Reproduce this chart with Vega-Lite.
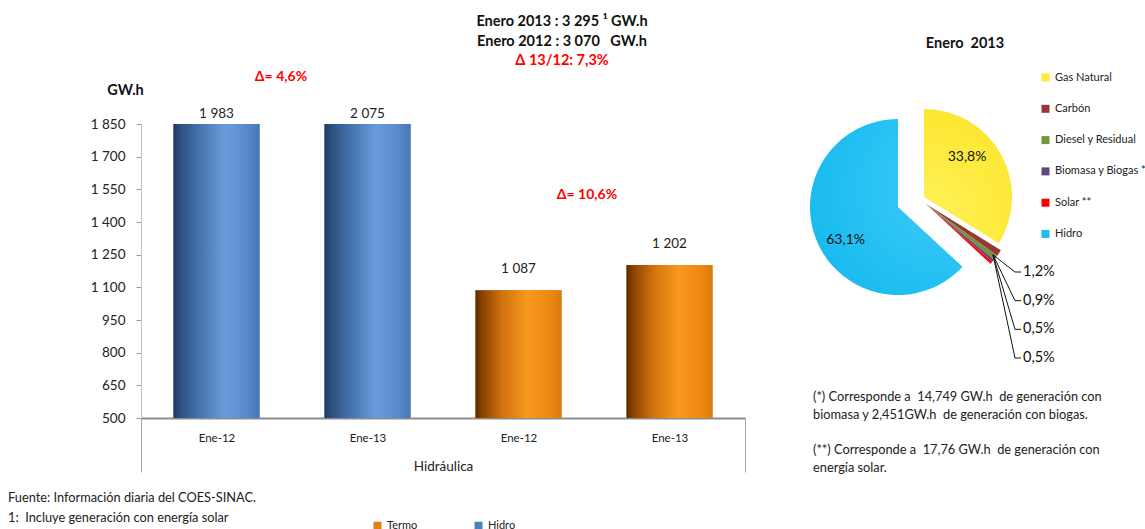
{
  "$schema": "https://vega.github.io/schema/vega-lite/v6.json",
  "padding": {"left": 8, "top": 14, "right": 0, "bottom": 0},
  "background": "white",
  "spacing": 52,
  "resolve": {"scale": {"color": "independent"}, "legend": {"color": "independent"}},
  "datasets": {
    "barras": [
      {"serie": "Hidro", "mes": "Ene-12", "id": "Hidro Ene-12", "gwh": 1983, "delta": ""},
      {"serie": "Hidro", "mes": "Ene-13", "id": "Hidro Ene-13", "gwh": 2075, "delta": "Δ= 4,6%"},
      {"serie": "Termo", "mes": "Ene-12", "id": "Termo Ene-12", "gwh": 1087, "delta": ""},
      {"serie": "Termo", "mes": "Ene-13", "id": "Termo Ene-13", "gwh": 1202, "delta": "Δ= 10,6%"}
    ],
    "torta": [
      {"fuente": "Gas Natural", "pct": 0.338, "orden": 1},
      {"fuente": "Carbón", "pct": 0.012, "orden": 2},
      {"fuente": "Diesel y Residual", "pct": 0.009, "orden": 3},
      {"fuente": "Biomasa y Biogas *", "pct": 0.005, "orden": 4},
      {"fuente": "Solar **", "pct": 0.005, "orden": 5},
      {"fuente": "Hidro", "pct": 0.631, "orden": 6}
    ]
  },
  "hconcat": [
    {
      "width": 604,
      "height": 294,
      "title": {
        "text": ["Enero 2013 : 3 295 ¹ GW.h", "Enero 2012 : 3 070\u00a0\u00a0\u00a0GW.h"],
        "subtitle": "Δ 13/12: 7,3%",
        "anchor": "middle",
        "frame": "group",
        "dx": 119,
        "offset": 2,
        "fontSize": 14.5,
        "fontWeight": "bold",
        "color": "#111",
        "lineHeight": 20,
        "subtitleFontSize": 14.5,
        "subtitleFontWeight": "bold",
        "subtitleColor": "#FF0000",
        "subtitlePadding": 4
      },
      "layer": [
        {
          "data": {"name": "barras"},
          "encoding": {
            "x": {
              "field": "id",
              "type": "nominal",
              "sort": null,
              "scale": {"paddingInner": 0, "paddingOuter": 0},
              "axis": {
                "title": "Hidráulica",
                "titleFontSize": 13.5,
                "titleFontWeight": "normal",
                "titleColor": "#222",
                "titlePadding": -13,
                "labelExpr": "split(datum.label, ' ')[1]",
                "labelAngle": 0,
                "labelFontSize": 11.5,
                "labelColor": "#222",
                "labelPadding": -40,
                "domainColor": "#8c8c8c",
                "domainWidth": 2,
                "tickBand": "extent",
                "tickSize": 54,
                "tickWidth": 1,
                "tickColor": {"condition": {"test": "datum.extra || datum.value === 'Termo Ene-13'", "value": "#a6a6a6"}, "value": "rgba(0,0,0,0)"}
              }
            },
            "y": {
              "field": "gwh",
              "type": "quantitative",
              "scale": {"domain": [500, 1850], "clamp": true, "nice": false, "zero": false},
              "axis": {
                "title": "GW.h",
                "titleAngle": 0,
                "titleX": -16,
                "titleY": -34,
                "titleAlign": "center",
                "titleBaseline": "middle",
                "titleFontSize": 14.5,
                "titleFontWeight": "bold",
                "titleColor": "#111",
                "values": [500, 650, 800, 950, 1100, 1250, 1400, 1550, 1700, 1850],
                "format": ",d",
                "labelFontSize": 13.5,
                "labelColor": "#222",
                "labelPadding": 11,
                "tickSize": 5,
                "tickColor": "#999",
                "domainColor": "#c0c0c0",
                "grid": false
              }
            }
          },
          "layer": [
            {
              "mark": {"type": "bar", "width": {"band": 0.57}},
              "encoding": {
                "y2": {"datum": 500},
                "color": {
                  "field": "serie",
                  "type": "nominal",
                  "scale": {"domain": ["Termo", "Hidro"], "range": ["#E1801B", "#4F81BD"]},
                  "legend": {
                    "title": null,
                    "orient": "none",
                    "legendX": 231,
                    "legendY": 396,
                    "direction": "horizontal",
                    "columns": 2,
                    "columnPadding": 55,
                    "symbolType": "square",
                    "symbolSize": 64,
                    "symbolStrokeWidth": 0,
                    "labelFontSize": 11,
                    "labelColor": "#222",
                    "padding": 0
                  }
                }
              }
            },
            {
              "transform": [{"filter": "datum.serie === 'Hidro'"}],
              "mark": {
                "type": "bar",
                "width": {"band": 0.57},
                "color": {
                  "gradient": "linear", "x1": 0, "y1": 0, "x2": 1, "y2": 0,
                  "stops": [
                    {"offset": 0, "color": "#1f3a60"},
                    {"offset": 0.08, "color": "#2d5080"},
                    {"offset": 0.3, "color": "#4572ad"},
                    {"offset": 0.6, "color": "#6a9cdc"},
                    {"offset": 0.85, "color": "#5a8acb"},
                    {"offset": 1, "color": "#4676b5"}
                  ]
                }
              },
              "encoding": {"y2": {"datum": 500}}
            },
            {
              "transform": [{"filter": "datum.serie === 'Termo'"}],
              "mark": {
                "type": "bar",
                "width": {"band": 0.57},
                "color": {
                  "gradient": "linear", "x1": 0, "y1": 0, "x2": 1, "y2": 0,
                  "stops": [
                    {"offset": 0, "color": "#5a2a00"},
                    {"offset": 0.08, "color": "#8a4300"},
                    {"offset": 0.3, "color": "#cf700d"},
                    {"offset": 0.6, "color": "#f8981f"},
                    {"offset": 0.85, "color": "#ee8914"},
                    {"offset": 1, "color": "#dc7a0c"}
                  ]
                }
              },
              "encoding": {"y2": {"datum": 500}}
            },
            {
              "transform": [{"filter": "datum.serie === 'Hidro'"}],
              "mark": {"type": "text", "dy": -10, "fontSize": 13.5, "color": "#222", "baseline": "middle"},
              "encoding": {"text": {"field": "gwh", "type": "quantitative", "format": ",d"}}
            },
            {
              "transform": [{"filter": "datum.serie === 'Termo'"}],
              "mark": {"type": "text", "dy": -21, "fontSize": 13.5, "color": "#222", "baseline": "middle"},
              "encoding": {"text": {"field": "gwh", "type": "quantitative", "format": ",d"}}
            },
            {
              "transform": [{"filter": "datum.id === 'Hidro Ene-13'"}],
              "mark": {"type": "text", "dy": -47, "dx": -11, "fontSize": 14, "fontWeight": "bold", "color": "#FF0000", "baseline": "middle"},
              "encoding": {
                "x": {"field": "id", "type": "nominal", "sort": null, "bandPosition": 0},
                "text": {"field": "delta", "type": "nominal"}
              }
            },
            {
              "transform": [{"filter": "datum.id === 'Termo Ene-13'"}],
              "mark": {"type": "text", "dy": -70, "dx": -7, "fontSize": 14, "fontWeight": "bold", "color": "#FF0000", "baseline": "middle"},
              "encoding": {
                "x": {"field": "id", "type": "nominal", "sort": null, "bandPosition": 0},
                "text": {"field": "delta", "type": "nominal"}
              }
            }
          ]
        },
        {
          "data": {"values": [{"nota": "Fuente: Información diaria del COES-SINAC.\n1:\u00a0\u00a0Incluye generación con energía solar"}]},
          "mark": {"type": "text", "align": "left", "baseline": "top", "dx": -435, "dy": 221, "fontSize": 12.8, "lineHeight": 20, "lineBreak": "\n", "color": "#222"},
          "encoding": {"text": {"field": "nota", "type": "nominal"}}
        }
      ]
    },
    {
      "width": 200,
      "height": 166,
      "data": {"name": "torta"},
      "title": {
        "text": "Enero\u00a0\u00a02013",
        "anchor": "middle",
        "frame": "group",
        "dx": 67,
        "offset": 21,
        "fontSize": 14.5,
        "fontWeight": "bold",
        "color": "#111"
      },
      "layer": [
        {
          "mark": {"type": "arc", "radius": 88, "xOffset": 28, "yOffset": -3},
          "encoding": {
            "theta": {"field": "pct", "type": "quantitative", "stack": true},
            "order": {"field": "orden", "type": "quantitative"},
            "color": {
              "field": "fuente",
              "type": "nominal",
              "sort": ["Gas Natural", "Carbón", "Diesel y Residual", "Biomasa y Biogas *", "Solar **", "Hidro"],
              "scale": {
                "domain": ["Gas Natural", "Carbón", "Diesel y Residual", "Biomasa y Biogas *", "Solar **", "Hidro"],
                "range": ["#FFE93B", "#953735", "#77933C", "#604A7B", "#FF0000", "#1DBDF0"]
              },
              "legend": {
                "title": null,
                "orient": "none",
                "legendX": 242,
                "legendY": -52,
                "direction": "vertical",
                "symbolType": "square",
                "symbolSize": 64,
                "symbolStrokeWidth": 0,
                "symbolOpacity": 1,
                "labelFontSize": 11,
                "labelColor": "#222",
                "rowPadding": 19.3,
                "labelLimit": 200,
                "padding": 0
              }
            },
            "opacity": {"condition": {"test": "datum.fuente === 'Gas Natural' || datum.fuente === 'Hidro'", "value": 0}, "value": 1}
          }
        },
        {
          "mark": {
            "type": "arc", "radius": 88, "xOffset": 26, "yOffset": -10,
            "color": {
              "gradient": "radial", "x1": 0.2, "y1": 0.8, "x2": 0.2, "y2": 0.8, "r1": 0, "r2": 1.1,
              "stops": [{"offset": 0, "color": "#FFF25A"}, {"offset": 0.75, "color": "#FCE62E"}, {"offset": 1, "color": "#D9C400"}]
            }
          },
          "encoding": {
            "theta": {"field": "pct", "type": "quantitative", "stack": true},
            "order": {"field": "orden", "type": "quantitative"},
            "detail": {"field": "fuente", "type": "nominal"},
            "opacity": {"condition": {"test": "datum.fuente === 'Gas Natural'", "value": 1}, "value": 0}
          }
        },
        {
          "mark": {
            "type": "arc", "radius": 88,
            "color": {
              "gradient": "radial", "x1": 0.8, "y1": 0.4, "x2": 0.8, "y2": 0.4, "r1": 0, "r2": 1,
              "stops": [{"offset": 0, "color": "#3CCBF7"}, {"offset": 0.8, "color": "#17BAEF"}, {"offset": 1, "color": "#0A9FD6"}]
            }
          },
          "encoding": {
            "theta": {"field": "pct", "type": "quantitative", "stack": true},
            "order": {"field": "orden", "type": "quantitative"},
            "detail": {"field": "fuente", "type": "nominal"},
            "opacity": {"condition": {"test": "datum.fuente === 'Hidro'", "value": 1}, "value": 0}
          }
        },
        {
          "mark": {"type": "text", "radius": 55, "dx": 21, "dy": -23, "fontSize": 14, "color": "#111"},
          "encoding": {
            "theta": {"field": "pct", "type": "quantitative", "stack": true},
            "order": {"field": "orden", "type": "quantitative"},
            "detail": {"field": "fuente", "type": "nominal"},
            "text": {"condition": {"test": "datum.fuente === 'Gas Natural'", "field": "pct", "type": "quantitative", "format": ".1%"}, "value": ""}
          }
        },
        {
          "mark": {"type": "text", "radius": 55, "dx": -2, "dy": 11, "fontSize": 14, "color": "#111"},
          "encoding": {
            "theta": {"field": "pct", "type": "quantitative", "stack": true},
            "order": {"field": "orden", "type": "quantitative"},
            "detail": {"field": "fuente", "type": "nominal"},
            "text": {"condition": {"test": "datum.fuente === 'Hidro'", "field": "pct", "type": "quantitative", "format": ".1%"}, "value": ""}
          }
        },
        {
          "transform": [{"filter": "datum.fuente !== 'Gas Natural' && datum.fuente !== 'Hidro'"}],
          "mark": {"type": "rule", "color": "#111", "strokeWidth": 1},
          "encoding": {
            "x": {"datum": 1.085, "type": "quantitative", "scale": {"domain": [0, 1], "nice": false, "zero": false}, "axis": null},
            "x2": {"datum": 0.975},
            "y": {"field": "orden", "type": "quantitative", "scale": {"domain": [2, 5], "range": [148, 234], "nice": false, "zero": false}, "axis": null},
            "y2": {"datum": 1.4}
          }
        },
        {
          "transform": [{"filter": "datum.fuente !== 'Gas Natural' && datum.fuente !== 'Hidro'"}],
          "mark": {"type": "rule", "color": "#111", "strokeWidth": 1},
          "encoding": {
            "x": {"datum": 1.085, "type": "quantitative"},
            "x2": {"datum": 1.115},
            "y": {"field": "orden", "type": "quantitative"}
          }
        },
        {
          "transform": [{"filter": "datum.fuente !== 'Gas Natural' && datum.fuente !== 'Hidro'"}],
          "mark": {"type": "text", "align": "left", "baseline": "middle", "dx": 2, "fontSize": 14.5, "color": "#111"},
          "encoding": {
            "x": {"datum": 1.115, "type": "quantitative"},
            "y": {"field": "orden", "type": "quantitative"},
            "text": {"field": "pct", "type": "quantitative", "format": ".1%"}
          }
        },
        {
          "data": {"values": [{"nota": "(*) Corresponde a\u00a0\u00a014,749 GW.h\u00a0\u00a0de generación con\nbiomasa y 2,451GW.h\u00a0\u00a0de generación con biogas."}]},
          "mark": {"type": "text", "align": "left", "baseline": "top", "dx": -85, "dy": 184, "fontSize": 12.8, "lineHeight": 17.5, "lineBreak": "\n", "color": "#222"},
          "encoding": {"text": {"field": "nota", "type": "nominal"}}
        },
        {
          "data": {"values": [{"nota": "(**) Corresponde a\u00a0\u00a017,76 GW.h\u00a0\u00a0de generación con\nenergía solar."}]},
          "mark": {"type": "text", "align": "left", "baseline": "top", "dx": -85, "dy": 237, "fontSize": 12.8, "lineHeight": 17.5, "lineBreak": "\n", "color": "#222"},
          "encoding": {"text": {"field": "nota", "type": "nominal"}}
        }
      ]
    }
  ],
  "config": {
    "font": "Lato",
    "view": {"stroke": null},
    "locale": {"number": {"decimal": ",", "thousands": " ", "grouping": [3], "currency": ["", ""]}}
  }
}
